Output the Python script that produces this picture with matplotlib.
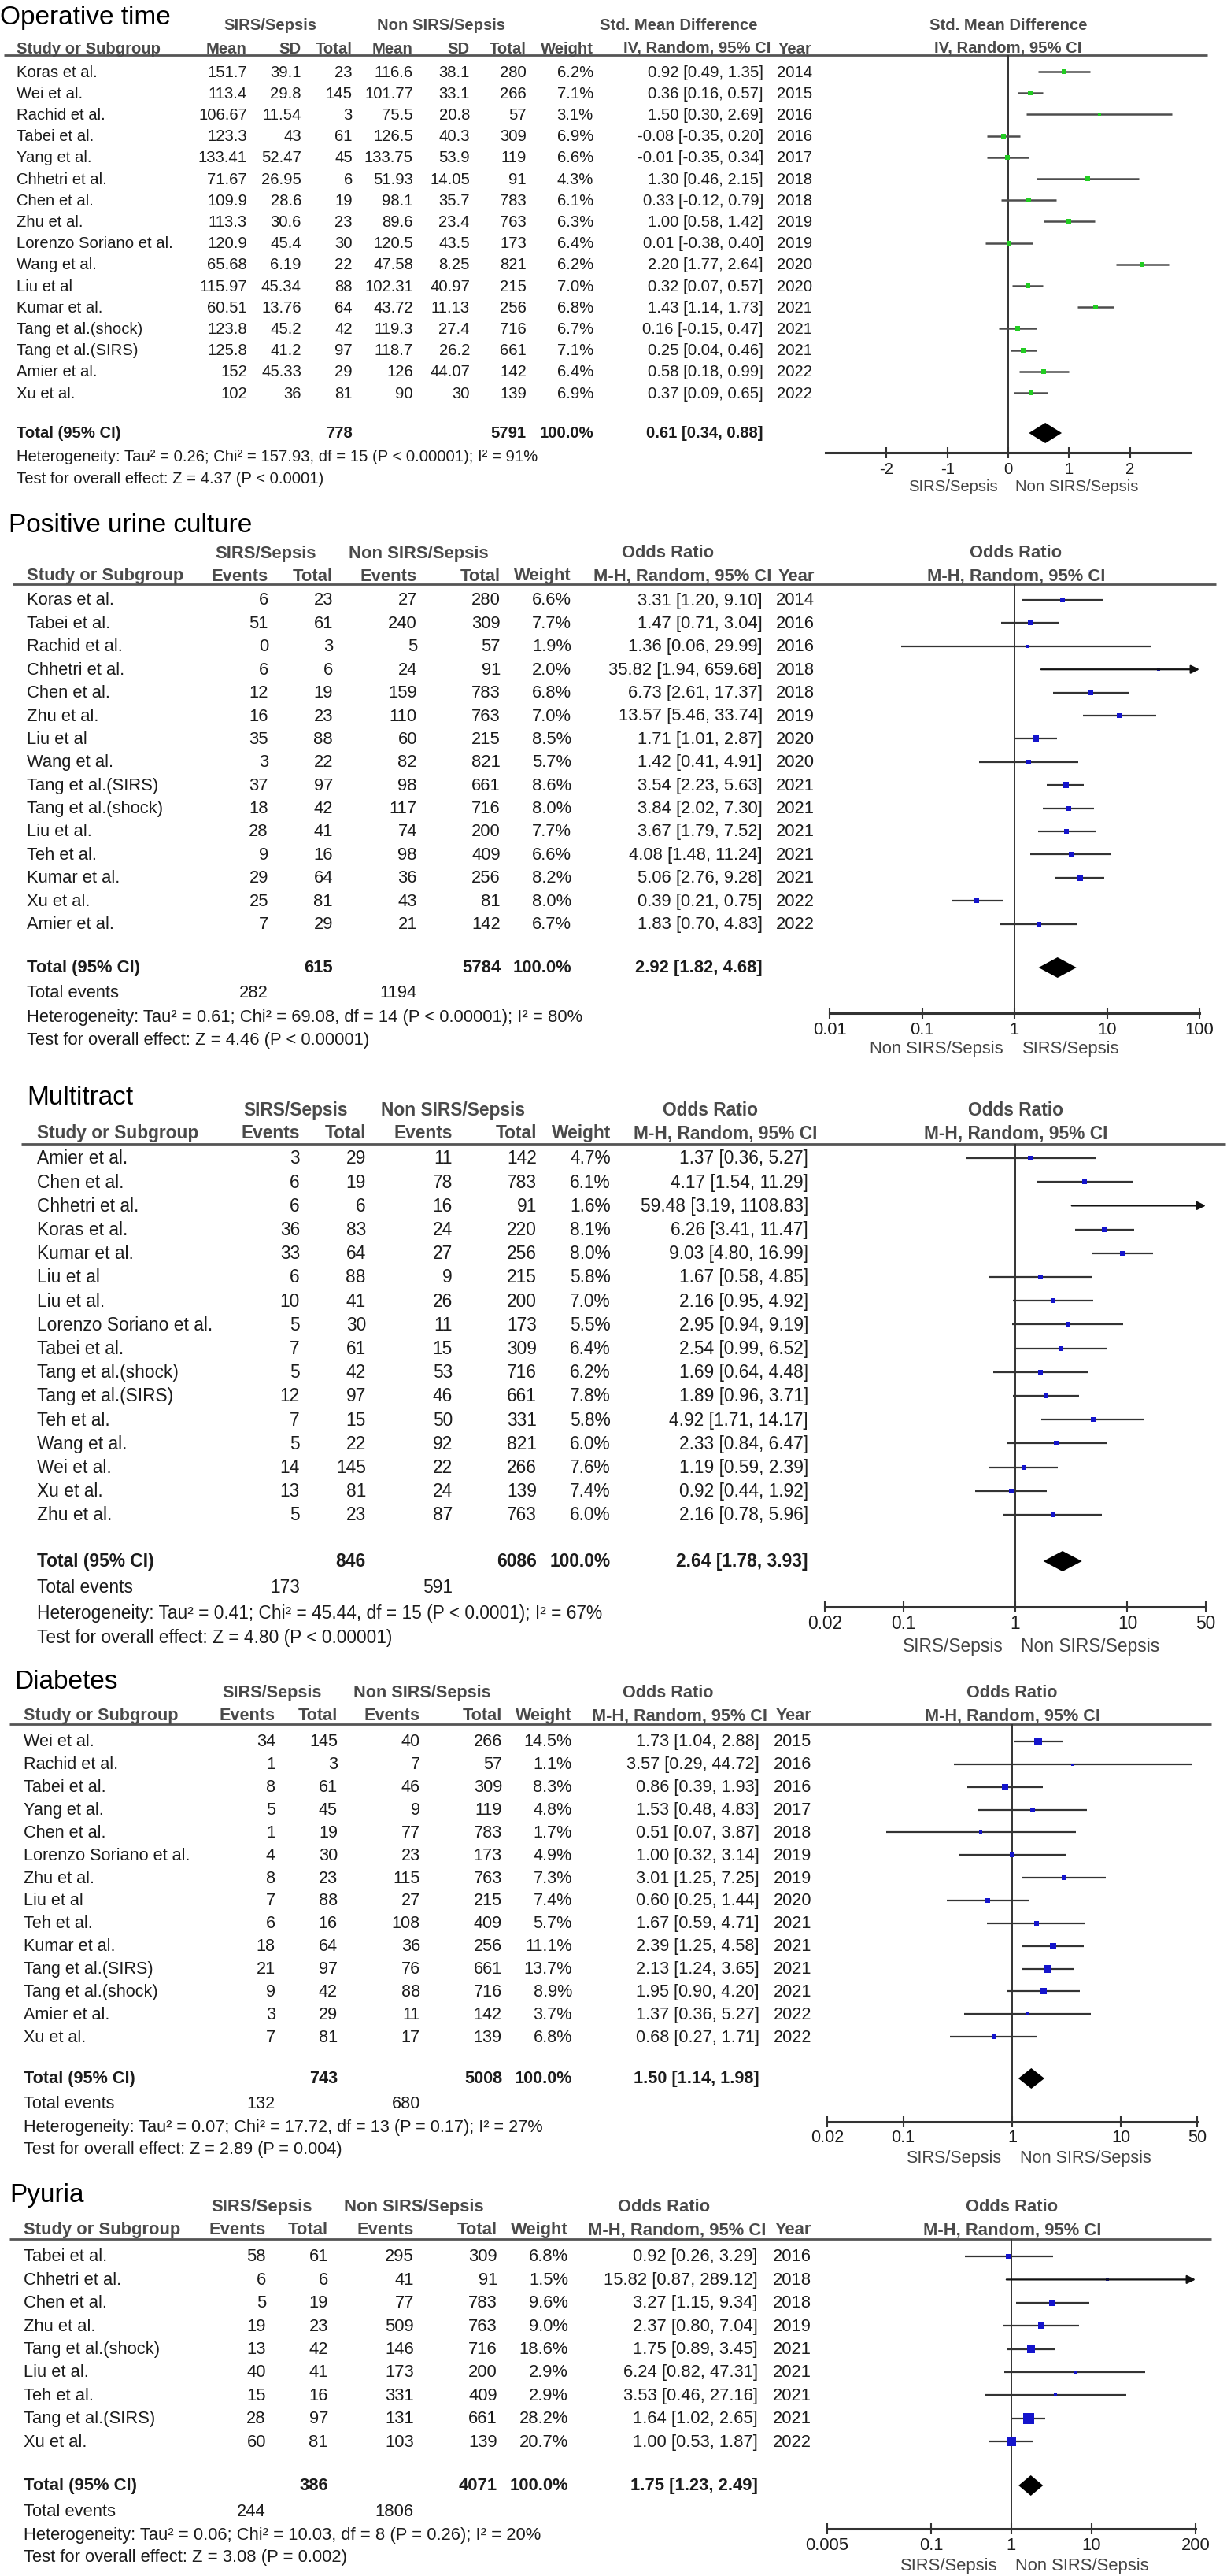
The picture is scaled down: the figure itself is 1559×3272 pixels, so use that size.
import matplotlib
matplotlib.use('Agg')
import matplotlib.pyplot as plt
from matplotlib.ticker import NullLocator
import numpy as np

plt.rcParams['font.family'] = ['Liberation Sans', 'DejaVu Sans']

# ---------------- DATA ----------------
# Panel 1: Operative time (SMD)
op_names = ["Koras et al.", "Wei et al.", "Rachid et al.", "Tabei et al.", "Yang et al.", "Chhetri et al.",
            "Chen et al.", "Zhu et al.", "Lorenzo Soriano et al.", "Wang et al.", "Liu et al", "Kumar et al.",
            "Tang et al.(shock)", "Tang et al.(SIRS)", "Amier et al.", "Xu et al."]
op_mean1 = [151.7, 113.4, 106.67, 123.3, 133.41, 71.67, 109.9, 113.3, 120.9, 65.68, 115.97, 60.51, 123.8, 125.8, 152, 102]
op_sd1 = [39.1, 29.8, 11.54, 43, 52.47, 26.95, 28.6, 30.6, 45.4, 6.19, 45.34, 13.76, 45.2, 41.2, 45.33, 36]
op_n1 = [23, 145, 3, 61, 45, 6, 19, 23, 30, 22, 88, 64, 42, 97, 29, 81]
op_mean2 = [116.6, 101.77, 75.5, 126.5, 133.75, 51.93, 98.1, 89.6, 120.5, 47.58, 102.31, 43.72, 119.3, 118.7, 126, 90]
op_sd2 = [38.1, 33.1, 20.8, 40.3, 53.9, 14.05, 35.7, 23.4, 43.5, 8.25, 40.97, 11.13, 27.4, 26.2, 44.07, 30]
op_n2 = [280, 266, 57, 309, 119, 91, 783, 763, 173, 821, 215, 256, 716, 661, 142, 139]
op_w = [6.2, 7.1, 3.1, 6.9, 6.6, 4.3, 6.1, 6.3, 6.4, 6.2, 7.0, 6.8, 6.7, 7.1, 6.4, 6.9]
op_est = [0.92, 0.36, 1.50, -0.08, -0.01, 1.30, 0.33, 1.00, 0.01, 2.20, 0.32, 1.43, 0.16, 0.25, 0.58, 0.37]
op_lo = [0.49, 0.16, 0.30, -0.35, -0.35, 0.46, -0.12, 0.58, -0.38, 1.77, 0.07, 1.14, -0.15, 0.04, 0.18, 0.09]
op_hi = [1.35, 0.57, 2.69, 0.20, 0.34, 2.15, 0.79, 1.42, 0.40, 2.64, 0.57, 1.73, 0.47, 0.46, 0.99, 0.65]
op_year = [2014, 2015, 2016, 2016, 2017, 2018, 2018, 2019, 2019, 2020, 2020, 2021, 2021, 2021, 2022, 2022]
op_total = (778, 5791, 0.61, 0.34, 0.88)
op_het = "Heterogeneity: Tau² = 0.26; Chi² = 157.93, df = 15 (P < 0.00001); I² = 91%"
op_test = "Test for overall effect: Z = 4.37 (P < 0.0001)"

# Panel 2: Positive urine culture
pu_names = ["Koras et al.", "Tabei et al.", "Rachid et al.", "Chhetri et al.", "Chen et al.", "Zhu et al.",
            "Liu et al", "Wang et al.", "Tang et al.(SIRS)", "Tang et al.(shock)", "Liu et al.", "Teh et al.",
            "Kumar et al.", "Xu et al.", "Amier et al."]
pu_ev1 = [6, 51, 0, 6, 12, 16, 35, 3, 37, 18, 28, 9, 29, 25, 7]
pu_tot1 = [23, 61, 3, 6, 19, 23, 88, 22, 97, 42, 41, 16, 64, 81, 29]
pu_ev2 = [27, 240, 5, 24, 159, 110, 60, 82, 98, 117, 74, 98, 36, 43, 21]
pu_tot2 = [280, 309, 57, 91, 783, 763, 215, 821, 661, 716, 200, 409, 256, 81, 142]
pu_w = [6.6, 7.7, 1.9, 2.0, 6.8, 7.0, 8.5, 5.7, 8.6, 8.0, 7.7, 6.6, 8.2, 8.0, 6.7]
pu_est = [3.31, 1.47, 1.36, 35.82, 6.73, 13.57, 1.71, 1.42, 3.54, 3.84, 3.67, 4.08, 5.06, 0.39, 1.83]
pu_lo = [1.20, 0.71, 0.06, 1.94, 2.61, 5.46, 1.01, 0.41, 2.23, 2.02, 1.79, 1.48, 2.76, 0.21, 0.70]
pu_hi = [9.10, 3.04, 29.99, 659.68, 17.37, 33.74, 2.87, 4.91, 5.63, 7.30, 7.52, 11.24, 9.28, 0.75, 4.83]
pu_year = [2014, 2016, 2016, 2018, 2018, 2019, 2020, 2020, 2021, 2021, 2021, 2021, 2021, 2022, 2022]
pu_total = (615, 5784, 2.92, 1.82, 4.68)
pu_events = (282, 1194)
pu_het = "Heterogeneity: Tau² = 0.61; Chi² = 69.08, df = 14 (P < 0.00001); I² = 80%"
pu_test = "Test for overall effect: Z = 4.46 (P < 0.00001)"

# Panel 3: Multitract
mt_names = ["Amier et al.", "Chen et al.", "Chhetri et al.", "Koras et al.", "Kumar et al.", "Liu et al",
            "Liu et al.", "Lorenzo Soriano et al.", "Tabei et al.", "Tang et al.(shock)", "Tang et al.(SIRS)",
            "Teh et al.", "Wang et al.", "Wei et al.", "Xu et al.", "Zhu et al."]
mt_ev1 = [3, 6, 6, 36, 33, 6, 10, 5, 7, 5, 12, 7, 5, 14, 13, 5]
mt_tot1 = [29, 19, 6, 83, 64, 88, 41, 30, 61, 42, 97, 15, 22, 145, 81, 23]
mt_ev2 = [11, 78, 16, 24, 27, 9, 26, 11, 15, 53, 46, 50, 92, 22, 24, 87]
mt_tot2 = [142, 783, 91, 220, 256, 215, 200, 173, 309, 716, 661, 331, 821, 266, 139, 763]
mt_w = [4.7, 6.1, 1.6, 8.1, 8.0, 5.8, 7.0, 5.5, 6.4, 6.2, 7.8, 5.8, 6.0, 7.6, 7.4, 6.0]
mt_est = [1.37, 4.17, 59.48, 6.26, 9.03, 1.67, 2.16, 2.95, 2.54, 1.69, 1.89, 4.92, 2.33, 1.19, 0.92, 2.16]
mt_lo = [0.36, 1.54, 3.19, 3.41, 4.80, 0.58, 0.95, 0.94, 0.99, 0.64, 0.96, 1.71, 0.84, 0.59, 0.44, 0.78]
mt_hi = [5.27, 11.29, 1108.83, 11.47, 16.99, 4.85, 4.92, 9.19, 6.52, 4.48, 3.71, 14.17, 6.47, 2.39, 1.92, 5.96]
mt_total = (846, 6086, 2.64, 1.78, 3.93)
mt_events = (173, 591)
mt_het = "Heterogeneity: Tau² = 0.41; Chi² = 45.44, df = 15 (P < 0.0001); I² = 67%"
mt_test = "Test for overall effect: Z = 4.80 (P < 0.00001)"

# Panel 4: Diabetes
db_names = ["Wei et al.", "Rachid et al.", "Tabei et al.", "Yang et al.", "Chen et al.", "Lorenzo Soriano et al.",
            "Zhu et al.", "Liu et al", "Teh et al.", "Kumar et al.", "Tang et al.(SIRS)", "Tang et al.(shock)",
            "Amier et al.", "Xu et al."]
db_ev1 = [34, 1, 8, 5, 1, 4, 8, 7, 6, 18, 21, 9, 3, 7]
db_tot1 = [145, 3, 61, 45, 19, 30, 23, 88, 16, 64, 97, 42, 29, 81]
db_ev2 = [40, 7, 46, 9, 77, 23, 115, 27, 108, 36, 76, 88, 11, 17]
db_tot2 = [266, 57, 309, 119, 783, 173, 763, 215, 409, 256, 661, 716, 142, 139]
db_w = [14.5, 1.1, 8.3, 4.8, 1.7, 4.9, 7.3, 7.4, 5.7, 11.1, 13.7, 8.9, 3.7, 6.8]
db_est = [1.73, 3.57, 0.86, 1.53, 0.51, 1.00, 3.01, 0.60, 1.67, 2.39, 2.13, 1.95, 1.37, 0.68]
db_lo = [1.04, 0.29, 0.39, 0.48, 0.07, 0.32, 1.25, 0.25, 0.59, 1.25, 1.24, 0.90, 0.36, 0.27]
db_hi = [2.88, 44.72, 1.93, 4.83, 3.87, 3.14, 7.25, 1.44, 4.71, 4.58, 3.65, 4.20, 5.27, 1.71]
db_year = [2015, 2016, 2016, 2017, 2018, 2019, 2019, 2020, 2021, 2021, 2021, 2021, 2022, 2022]
db_total = (743, 5008, 1.50, 1.14, 1.98)
db_events = (132, 680)
db_het = "Heterogeneity: Tau² = 0.07; Chi² = 17.72, df = 13 (P = 0.17); I² = 27%"
db_test = "Test for overall effect: Z = 2.89 (P = 0.004)"

# Panel 5: Pyuria
py_names = ["Tabei et al.", "Chhetri et al.", "Chen et al.", "Zhu et al.", "Tang et al.(shock)", "Liu et al.",
            "Teh et al.", "Tang et al.(SIRS)", "Xu et al."]
py_ev1 = [58, 6, 5, 19, 13, 40, 15, 28, 60]
py_tot1 = [61, 6, 19, 23, 42, 41, 16, 97, 81]
py_ev2 = [295, 41, 77, 509, 146, 173, 331, 131, 103]
py_tot2 = [309, 91, 783, 763, 716, 200, 409, 661, 139]
py_w = [6.8, 1.5, 9.6, 9.0, 18.6, 2.9, 2.9, 28.2, 20.7]
py_est = [0.92, 15.82, 3.27, 2.37, 1.75, 6.24, 3.53, 1.64, 1.00]
py_lo = [0.26, 0.87, 1.15, 0.80, 0.89, 0.82, 0.46, 1.02, 0.53]
py_hi = [3.29, 289.12, 9.34, 7.04, 3.45, 47.31, 27.16, 2.65, 1.87]
py_year = [2016, 2018, 2018, 2019, 2021, 2021, 2021, 2021, 2022]
py_total = (386, 4071, 1.75, 1.23, 2.49)
py_events = (244, 1806)
py_het = "Heterogeneity: Tau² = 0.06; Chi² = 10.03, df = 8 (P = 0.26); I² = 20%"
py_test = "Test for overall effect: Z = 3.08 (P = 0.002)"

# ---------------- FIGURE ----------------
W, H = 1559, 3273
fig = plt.figure(figsize=(W / 100, H / 100), dpi=100)
base = fig.add_axes([0, 0, 1, 1])
base.set_xlim(0, W)
base.set_ylim(H, 0)
base.axis('off')

HDR = '#4a4a4a'
TXT = '#1c1c1c'
LINE = '#333333'


def T(x, y, s, size, ha='left', bold=False, color=TXT):
    base.text(x, y, s, fontsize=size, ha=ha, va='center',
              fontweight='bold' if bold else 'normal', color=color)


def fmt(v):
    return f"{v:g}"


def ci_str(e, l, h):
    return f"{e:.2f} [{l:.2f}, {h:.2f}]"


def panel(L, title, cols_hdr, cols, names, w, est, lo, hi, years, total, events, het, test,
          est_hdr, method, log, xlim, ticks, ticklabels, dirlabels, mcolor, ref, cicolor, ciw):
    fs = L['fs']
    # title
    base.text(L['title'][0], L['title'][1], title, fontsize=24, ha='left', va='center', color='black')
    # group headers
    gy = L['grp_y']
    T(L['grp'][0], gy, "SIRS/Sepsis", fs, 'center', True, HDR)
    T(L['grp'][1], gy, "Non SIRS/Sepsis", fs, 'center', True, HDR)
    T(L['grp'][2], gy, est_hdr, fs, 'center', True, HDR)
    T(L['plot_hdr'], gy, est_hdr, fs, 'center', True, HDR)
    # column headers
    cy = L['col_y']
    T(L['name_x'], cy, "Study or Subgroup", fs, 'left', True, HDR)
    for hx, hs in zip(L['num_r'], cols_hdr):
        T(hx, cy, hs, fs, 'right', True, HDR)
    T(L['ci_hdr_r'], cy, method, fs, 'right', True, HDR)
    if years is not None:
        T(L['year_r'], cy, "Year", fs, 'right', True, HDR)
    T(L['plot_hdr'], cy, method, fs, 'center', True, HDR)
    base.plot(L['line_x'], [L['line_y'], L['line_y']], color='#555555', lw=2.0, solid_capstyle='butt')

    # rows
    n = len(names)
    ys = [L['row_y0'] + i * L['dy'] for i in range(n)]
    for i in range(n):
        y = ys[i]
        T(L['name_x'], y, names[i], fs)
        vals = [c[i] for c in cols] + [w[i]]
        for j, (hx, v) in enumerate(zip(L['num_r'], vals)):
            s = f"{v:.1f}%" if j == len(vals) - 1 else fmt(v)
            T(hx, y, s, fs, 'right')
        T(L['ci_r'], y, ci_str(est[i], lo[i], hi[i]), fs, 'right')
        if years is not None:
            T(L['year_r'], y, str(years[i]), fs, 'right')

    # total rows
    ty = L['total_y']
    T(L['name_x'], ty, "Total (95% CI)", fs, 'left', True)
    T(L['num_r'][L['tot_idx'][0]], ty, str(total[0]), fs, 'right', True)
    T(L['num_r'][L['tot_idx'][1]], ty, str(total[1]), fs, 'right', True)
    T(L['num_r'][-1], ty, "100.0%", fs, 'right', True)
    T(L['ci_r'], ty, ci_str(total[2], total[3], total[4]), fs, 'right', True)
    if events is not None:
        T(L['name_x'], L['ev_y'], "Total events", fs)
        T(L['num_r'][0], L['ev_y'], str(events[0]), fs, 'right')
        T(L['num_r'][2], L['ev_y'], str(events[1]), fs, 'right')
    T(L['name_x'], L['het_y'], het, fs)
    T(L['name_x'], L['test_y'], test, fs)

    # forest axes
    x0, x1 = L['px']
    ytop, ybot = L['line_y'], L['axis_y']
    ax = fig.add_axes([x0 / W, 1 - ybot / H, (x1 - x0) / W, (ybot - ytop) / H])
    if log:
        ax.set_xscale('log')
    ax.set_xlim(xlim)
    ax.set_ylim(ybot, ytop)
    ax.patch.set_alpha(0)
    for s in ['top', 'left', 'right']:
        ax.spines[s].set_visible(False)
    ax.spines['bottom'].set_linewidth(2.2)
    ax.spines['bottom'].set_color(LINE)
    ax.set_yticks([])
    ax.set_xticks(ticks)
    ax.set_xticklabels([])
    ax.xaxis.set_minor_locator(NullLocator())
    ax.tick_params(axis='x', direction='inout', length=10, width=1.5, color=LINE)
    ax.axvline(ref, color=LINE, lw=1.4)
    for i in range(n):
        y = ys[i]
        l = max(lo[i], xlim[0])
        if hi[i] > xlim[1]:
            ax.annotate('', xy=(xlim[1], y), xytext=(l, y),
                        arrowprops=dict(arrowstyle='-|>', color='#111111', lw=ciw,
                                        mutation_scale=16, shrinkA=0, shrinkB=0))
        else:
            ax.plot([l, hi[i]], [y, y], color=cicolor, lw=ciw, solid_capstyle='butt')
        side = max(3.0, 2.45 * np.sqrt(w[i]))
        ax.plot([est[i]], [y], marker='s', ms=side * 0.72, color=mcolor, mec=mcolor, mew=0, ls='none')
    e, l, h = total[2], total[3], total[4]
    dh = 13
    ax.fill([l, e, h, e], [ty, ty - dh, ty, ty + dh], color='black', lw=0)
    for t, tl in zip(ticks, ticklabels):
        ax.text(t, L['tick_y'], tl, fontsize=fs, ha='center', va='center', color=TXT, clip_on=False)
    T(L['dir'][0], L['dir_y'], dirlabels[0], fs, 'center', False, '#444444')
    T(L['dir'][1], L['dir_y'], dirlabels[1], fs, 'center', False, '#444444')


# ---------------- LAYOUTS ----------------
L1 = dict(fs=14.6, title=(0, 22), grp_y=33, grp=(343, 561, 862), plot_hdr=1281,
          col_y=62, name_x=21, num_r=[314, 383, 448, 525, 597, 669, 754], ci_hdr_r=979, year_r=1032,
          line_y=71, line_x=(5, 1534), row_y0=92, dy=27.2, ci_r=970, tot_idx=(2, 5),
          total_y=551, ev_y=None, het_y=581, test_y=608,
          px=(1049, 1513), axis_y=576, tick_y=596, dir_y=618, dir=(1211, 1368))
L2 = dict(fs=15.8, title=(11, 668), grp_y=703, grp=(338, 532, 849), plot_hdr=1291,
          col_y=732, name_x=34, num_r=[341, 423, 530, 636, 726], ci_hdr_r=980, year_r=1035,
          line_y=743, line_x=(16, 1545), row_y0=763, dy=29.4, ci_r=969, tot_idx=(1, 3),
          total_y=1230, ev_y=1262, het_y=1293, test_y=1322,
          px=(1054, 1524), axis_y=1288, tick_y=1308, dir_y=1333, dir=(1190, 1361))
L3 = dict(fs=16.4, title=(34, 1395), grp_y=1411, grp=(376, 576, 903), plot_hdr=1291,
          col_y=1440, name_x=47, num_r=[381, 465, 575, 682, 776], ci_hdr_r=1038, year_r=None,
          line_y=1454, line_x=(27, 1557), row_y0=1472, dy=30.2, ci_r=1027, tot_idx=(1, 3),
          total_y=1984, ev_y=2017, het_y=2050, test_y=2081,
          px=(1048, 1532), axis_y=2042, tick_y=2063, dir_y=2092, dir=(1211, 1385))
L4 = dict(fs=15.6, title=(18, 2137), grp_y=2151, grp=(346, 536, 849), plot_hdr=1286,
          col_y=2180, name_x=30, num_r=[350, 429, 534, 638, 727], ci_hdr_r=975, year_r=1031,
          line_y=2191, line_x=(12, 1539), row_y0=2213, dy=28.85, ci_r=965, tot_idx=(1, 3),
          total_y=2641, ev_y=2673, het_y=2703, test_y=2731,
          px=(1051, 1521), axis_y=2696, tick_y=2716, dir_y=2742, dir=(1212, 1379))
L5 = dict(fs=15.8, title=(12, 2789), grp_y=2804, grp=(333, 526, 844), plot_hdr=1286,
          col_y=2833, name_x=30, num_r=[338, 417, 526, 632, 722], ci_hdr_r=973, year_r=1031,
          line_y=2845, line_x=(12, 1539), row_y0=2867, dy=29.4, ci_r=963, tot_idx=(1, 3),
          total_y=3158, ev_y=3191, het_y=3221, test_y=3249,
          px=(1051, 1519), axis_y=3213, tick_y=3234, dir_y=3260, dir=(1206, 1375))

GREEN = '#22cc22'
BLUE = '#1414cc'
OR_HDR = ["Events", "Total", "Events", "Total", "Weight"]

panel(L1, "Operative time", ["Mean", "SD", "Total", "Mean", "SD", "Total", "Weight"],
      [op_mean1, op_sd1, op_n1, op_mean2, op_sd2, op_n2], op_names, op_w, op_est, op_lo, op_hi, op_year,
      op_total, None, op_het, op_test, "Std. Mean Difference", "IV, Random, 95% CI",
      False, (-3, 3), [-2, -1, 0, 1, 2], ["-2", "-1", "0", "1", "2"],
      ("SIRS/Sepsis", "Non SIRS/Sepsis"), GREEN, 0, '#4d4d4d', 1.8)

panel(L2, "Positive urine culture", OR_HDR, [pu_ev1, pu_tot1, pu_ev2, pu_tot2], pu_names, pu_w,
      pu_est, pu_lo, pu_hi, pu_year, pu_total, pu_events, pu_het, pu_test, "Odds Ratio",
      "M-H, Random, 95% CI", True, (0.01, 100), [0.01, 0.1, 1, 10, 100], ["0.01", "0.1", "1", "10", "100"],
      ("Non SIRS/Sepsis", "SIRS/Sepsis"), BLUE, 1, '#333333', 1.6)

panel(L3, "Multitract", OR_HDR, [mt_ev1, mt_tot1, mt_ev2, mt_tot2], mt_names, mt_w,
      mt_est, mt_lo, mt_hi, None, mt_total, mt_events, mt_het, mt_test, "Odds Ratio",
      "M-H, Random, 95% CI", True, (0.02, 50), [0.02, 0.1, 1, 10, 50], ["0.02", "0.1", "1", "10", "50"],
      ("SIRS/Sepsis", "Non SIRS/Sepsis"), BLUE, 1, '#333333', 1.6)

panel(L4, "Diabetes", OR_HDR, [db_ev1, db_tot1, db_ev2, db_tot2], db_names, db_w,
      db_est, db_lo, db_hi, db_year, db_total, db_events, db_het, db_test, "Odds Ratio",
      "M-H, Random, 95% CI", True, (0.02, 50), [0.02, 0.1, 1, 10, 50], ["0.02", "0.1", "1", "10", "50"],
      ("SIRS/Sepsis", "Non SIRS/Sepsis"), BLUE, 1, '#333333', 1.6)

panel(L5, "Pyuria", OR_HDR, [py_ev1, py_tot1, py_ev2, py_tot2], py_names, py_w,
      py_est, py_lo, py_hi, py_year, py_total, py_events, py_het, py_test, "Odds Ratio",
      "M-H, Random, 95% CI", True, (0.005, 200), [0.005, 0.1, 1, 10, 200], ["0.005", "0.1", "1", "10", "200"],
      ("SIRS/Sepsis", "Non SIRS/Sepsis"), BLUE, 1, '#333333', 1.6)

fig.savefig('out.png', dpi=100, facecolor='white')
